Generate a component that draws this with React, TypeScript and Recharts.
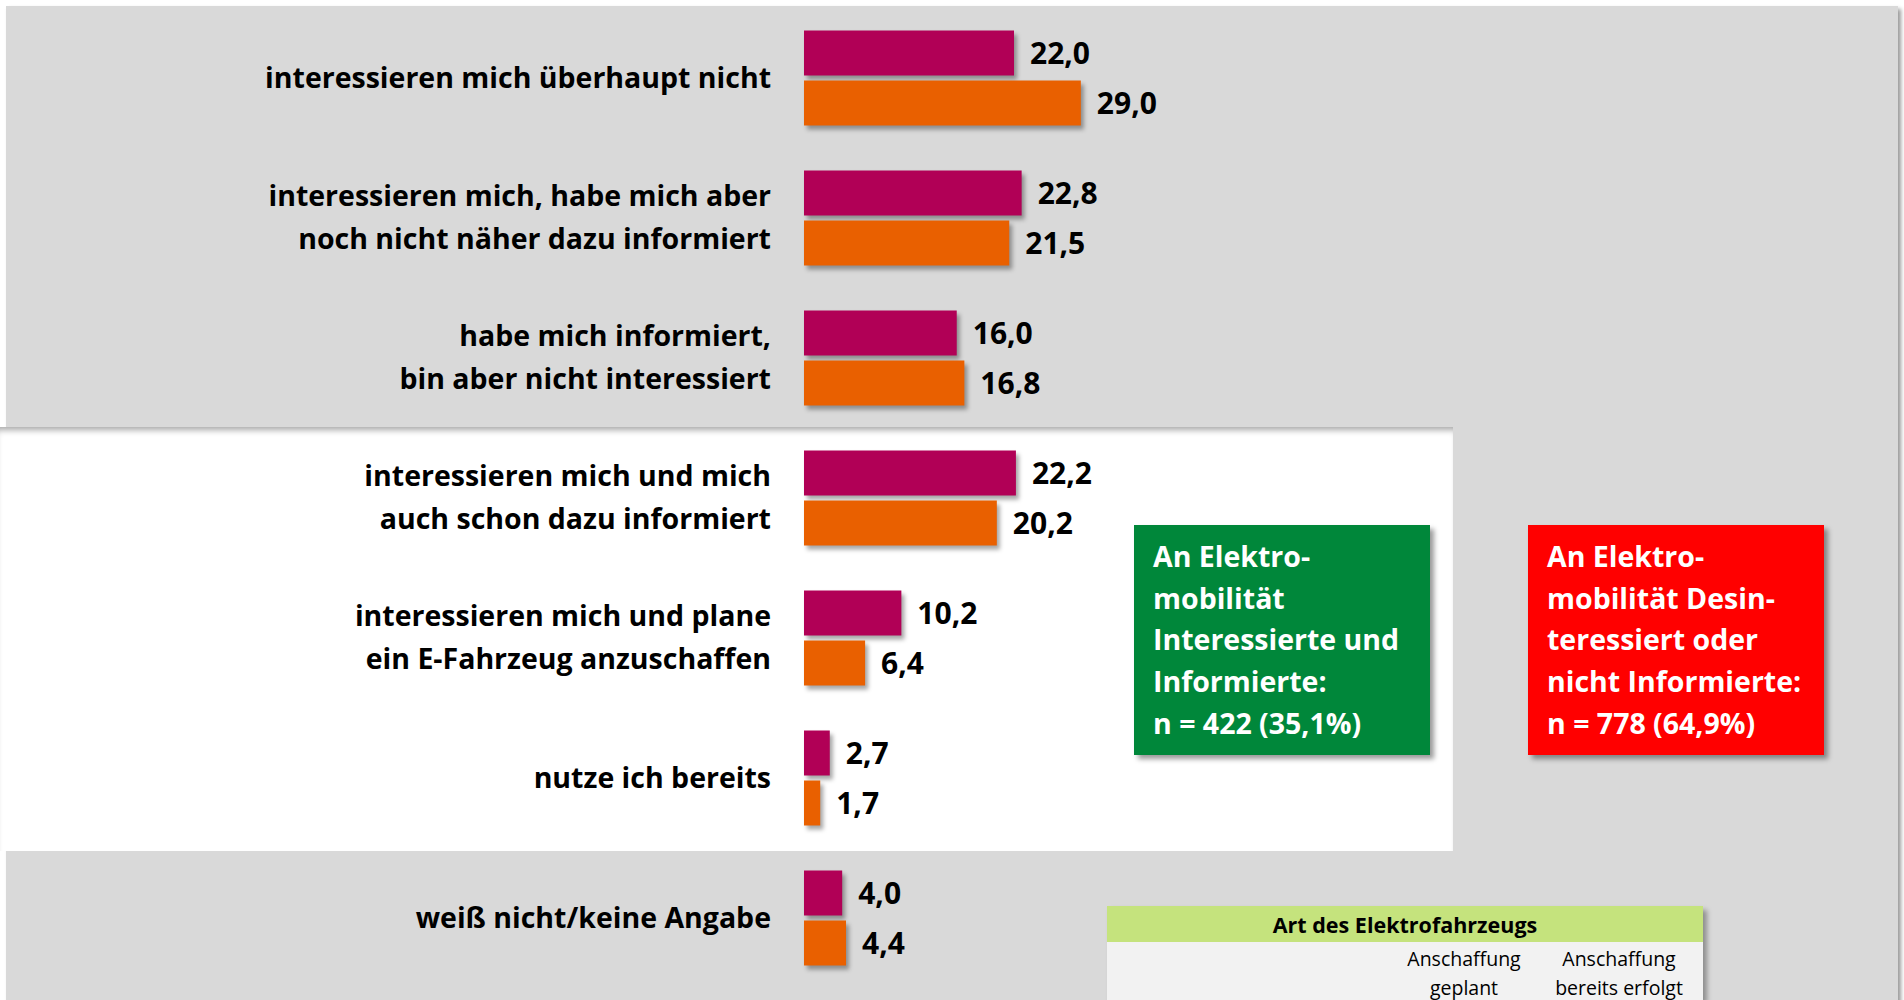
import React from 'react';
import { BarChart, Bar, XAxis, YAxis, LabelList } from 'recharts';

// Antworten (Kategorien) und Werte in Prozent
const categories = [
  'interessieren mich überhaupt nicht',
  'interessieren mich, habe mich aber\nnoch nicht näher dazu informiert',
  'habe mich informiert,\nbin aber nicht interessiert',
  'interessieren mich und mich\nauch schon dazu informiert',
  'interessieren mich und plane\nein E-Fahrzeug anzuschaffen',
  'nutze ich bereits',
  'weiß nicht/keine Angabe',
];
const seriesA = [22.0, 22.8, 16.0, 22.2, 10.2, 2.7, 4.0];
const seriesB = [29.0, 21.5, 16.8, 20.2, 6.4, 1.7, 4.4];

const greenLines = ['An Elektro-', 'mobilität', 'Interessierte und', 'Informierte:', 'n = 422 (35,1%)'];
const redLines = ['An Elektro-', 'mobilität Desin-', 'teressiert oder', 'nicht Informierte:', 'n = 778 (64,9%)'];
const tableTitle = 'Art des Elektrofahrzeugs';
const tableCols = [['Anschaffung', 'geplant'], ['Anschaffung', 'bereits erfolgt']];

const FONT = '"Open Sans", Lato, sans-serif';
const MAGENTA = '#B10056';
const ORANGE = '#E96000';
const GRAY = '#D9D9D9';

const data = categories.map((name, i) => ({ name, a: seriesA[i], b: seriesB[i] }));
const fmt = (v: any) => Number(v).toFixed(1).replace('.', ',');

const CatTick = (props: any) => {
  const { x, y, payload } = props;
  const lines = String(payload.value).split('\n');
  const lh = 43;
  return (
    <text x={x} y={y} textAnchor="end" fill="#000" fontFamily={FONT} fontWeight={700} fontSize={28.5}>
      {lines.map((l, i) => (
        <tspan key={i} x={x} y={y - 1 + (i - (lines.length - 1) / 2) * lh} dominantBaseline="central">
          {l}
        </tspan>
      ))}
    </text>
  );
};

const Box = ({ left, bg, lines }: { left: number; bg: string; lines: string[] }) => (
  <div
    style={{
      position: 'absolute', left, top: 525, width: 296, height: 230, background: bg,
      boxShadow: '4px 4px 5px rgba(0,0,0,0.4)', boxSizing: 'border-box', padding: '11px 0 0 19px',
      color: '#fff', fontFamily: FONT, fontWeight: 700, fontSize: 28.5, lineHeight: '41.7px', whiteSpace: 'nowrap',
    }}
  >
    {lines.map((l, i) => <div key={i}>{l}</div>)}
  </div>
);

export default function App() {
  return (
    <div style={{ position: 'absolute', left: 0, top: 0, width: 1904, height: 1000, overflow: 'hidden', background: '#fff' }}>
      <style>{`.recharts-bar-rectangle path { filter: drop-shadow(3px 4px 2px rgba(0,0,0,0.35)); }`}</style>
      <div style={{ position: 'absolute', left: 6, top: 6, width: 1892, height: 1000, background: GRAY, boxShadow: '3px 3px 4px rgba(0,0,0,0.4)' }} />
      <div style={{ position: 'absolute', left: 0, top: 427, width: 1453, height: 424, background: '#fff', boxShadow: 'inset 0 7px 6px -4px rgba(0,0,0,0.35)' }} />
      <div style={{ position: 'absolute', left: 0, top: 0 }}>
        <BarChart
          width={1904}
          height={1000}
          data={data}
          layout="vertical"
          margin={{ top: 7.5, right: 622.7, bottom: 12.5, left: 0 }}
          barSize={45}
          barGap={5}
        >
          <XAxis type="number" domain={[0, 50]} hide />
          <YAxis
            type="category"
            dataKey="name"
            width={804}
            axisLine={false}
            tickLine={false}
            tickSize={0}
            tickMargin={33}
            interval={0}
            tick={<CatTick />}
          />
          <Bar dataKey="a" fill={MAGENTA} isAnimationActive={false}>
            <LabelList dataKey="a" position="right" offset={16} formatter={fmt} fill="#000" fontSize={30} fontWeight={700} fontFamily={FONT} />
          </Bar>
          <Bar dataKey="b" fill={ORANGE} isAnimationActive={false}>
            <LabelList dataKey="b" position="right" offset={16} formatter={fmt} fill="#000" fontSize={30} fontWeight={700} fontFamily={FONT} />
          </Bar>
        </BarChart>
      </div>
      <Box left={1134} bg="#00873A" lines={greenLines} />
      <Box left={1528} bg="#FF0000" lines={redLines} />
      <div style={{ position: 'absolute', left: 1107, top: 906, width: 596, height: 94, background: '#F2F2F2', boxShadow: '4px 4px 5px rgba(0,0,0,0.35)', fontFamily: FONT }}>
        <div style={{ height: 36, background: '#C5E37D', textAlign: 'center', fontWeight: 700, fontSize: 21.5, lineHeight: '38px', color: '#000' }}>
          {tableTitle}
        </div>
        <div style={{ position: 'absolute', top: 38, left: 0, width: 596, fontSize: 19.5, lineHeight: '29px', color: '#000' }}>
          {tableCols.map((c, i) => (
            <div key={i} style={{ position: 'absolute', left: i === 0 ? 292 : 447, width: 130, textAlign: 'center', whiteSpace: 'nowrap' }}>
              {c.map((l, j) => <div key={j}>{l}</div>)}
            </div>
          ))}
        </div>
      </div>
    </div>
  );
}
